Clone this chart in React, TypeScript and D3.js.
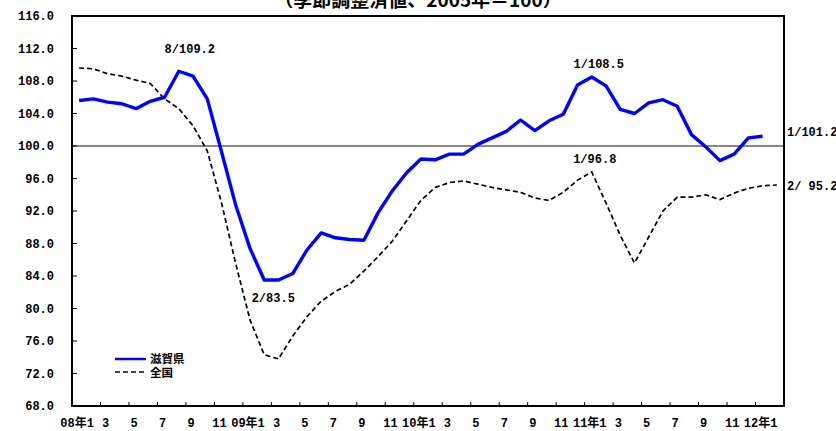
import React from "react";
import * as d3 from "d3";

// Monthly index, Jan 2008 – Feb 2012 (seasonally adjusted, 2005 = 100)
const monthLabels = [
  "08年1", "3", "5", "7", "9", "11",
  "09年1", "3", "5", "7", "9", "11",
  "10年1", "3", "5", "7", "9", "11",
  "11年1", "3", "5", "7", "9", "11",
  "12年1",
];

// 滋賀県: Jan 2008 – Jan 2012
const shiga = [
  105.6, 105.8, 105.4, 105.2, 104.6, 105.5, 106.0, 109.2, 108.6, 105.8, 99.3, 92.7,
  87.4, 83.5, 83.5, 84.3, 87.2, 89.3, 88.7, 88.5, 88.4, 91.8, 94.5, 96.7,
  98.4, 98.3, 99.0, 99.0, 100.2, 101.0, 101.8, 103.2, 101.9, 103.1, 103.9, 107.5,
  108.5, 107.4, 104.5, 104.0, 105.3, 105.7, 104.9, 101.4, 99.9, 98.2, 99.0, 101.0,
  101.2,
];

// 全国: Jan 2008 – Feb 2012
const zenkoku = [
  109.6, 109.5, 108.9, 108.6, 108.1, 107.7, 105.8, 104.6, 102.5, 99.4, 93.0, 85.5,
  78.6, 74.3, 73.8, 76.6, 79.0, 80.9, 82.1, 83.0, 84.6, 86.4, 88.3, 90.8,
  93.3, 94.9, 95.5, 95.7, 95.3, 94.9, 94.6, 94.3, 93.6, 93.3, 94.3, 95.8,
  96.8, 93.0, 89.0, 85.6, 88.8, 92.0, 93.7, 93.7, 94.0, 93.4, 94.2, 94.8,
  95.1, 95.2,
];

const yTicks = [68, 72, 76, 80, 84, 88, 92, 96, 100, 104, 108, 112, 116];

const W = 836;
const H = 431;
const plot = { left: 72, right: 784, top: 16, bottom: 406 };

const numFont = "'Liberation Mono', 'Noto Sans CJK JP', monospace";
const cjkFont = "'Noto Sans CJK JP', sans-serif";

export default function App() {
  const n = zenkoku.length;
  const x = d3
    .scaleBand<number>()
    .domain(d3.range(n))
    .range([plot.left, plot.right])
    .padding(0);
  const bw = x.bandwidth();
  const cx = (i: number) => (x(i) as number) + bw / 2;
  const y = d3.scaleLinear().domain([68, 116]).range([plot.bottom, plot.top]);

  const line = d3
    .line<number>()
    .x((_, i) => cx(i))
    .y((v) => y(v));

  const yFmt = d3.format(".1f");

  // tick marks on the category axis every two months
  const xTickIdx = d3.range(2, n, 2);

  const label = (
    text: string,
    xPos: number,
    yCenter: number,
    anchor: "start" | "middle" = "middle"
  ) => (
    <text
      x={xPos}
      y={yCenter + 4.3}
      textAnchor={anchor}
      fontFamily={numFont}
      fontWeight="bold"
      fontSize={12}
      fill="#000"
    >
      {text}
    </text>
  );

  const iShigaPeak = 7;
  const iShigaLow = 13;
  const iJan11 = 36;
  const iShigaLast = shiga.length - 1;
  const iZenLast = zenkoku.length - 1;

  return (
    <svg
      width={W}
      height={H}
      style={{ position: "absolute", left: 0, top: 0, background: "#fff" }}
    >
      <rect x={0} y={0} width={W} height={H} fill="#fff" />

      {/* title, its upper half running off the top */}
      <text
        x={418}
        y={7}
        textAnchor="middle"
        fontFamily={cjkFont}
        fontWeight="bold"
        fontSize={19}
        fill="#000"
      >
        （季節調整済値、2005年＝100）
      </text>

      {/* reference line at 100 */}
      <line
        x1={plot.left}
        x2={plot.right}
        y1={y(100)}
        y2={y(100)}
        stroke="#111"
        strokeWidth={1.2}
      />

      {/* y ticks (inside) and labels */}
      {yTicks.map((t) => (
        <g key={t}>
          <line
            x1={plot.left}
            x2={plot.left + 5}
            y1={y(t)}
            y2={y(t)}
            stroke="#000"
            strokeWidth={1}
          />
          <text
            x={54}
            y={y(t) + 4.3}
            textAnchor="end"
            fontFamily={numFont}
            fontWeight="bold"
            fontSize={12}
          >
            {yFmt(t)}
          </text>
        </g>
      ))}

      {/* x ticks (inside) */}
      {xTickIdx.map((i) => (
        <line
          key={i}
          x1={x(i) as number}
          x2={x(i) as number}
          y1={plot.bottom}
          y2={plot.bottom - 4}
          stroke="#000"
          strokeWidth={1}
        />
      ))}

      {/* x labels every other month */}
      {monthLabels.map((lab, k) => (
        <text
          key={k}
          x={cx(k * 2) - 2}
          y={426.5}
          textAnchor="middle"
          fontFamily={numFont}
          fontWeight="bold"
          fontSize={12}
        >
          {lab}
        </text>
      ))}

      {/* series */}
      <path
        d={line(zenkoku) as string}
        fill="none"
        stroke="#000"
        strokeWidth={1.7}
        strokeDasharray="5,3"
      />
      <path
        d={line(shiga) as string}
        fill="none"
        stroke="#0000ff"
        strokeWidth={3.4}
        strokeLinejoin="round"
      />

      {/* frame */}
      <rect
        x={plot.left}
        y={plot.top}
        width={plot.right - plot.left}
        height={plot.bottom - plot.top}
        fill="none"
        stroke="#000"
        strokeWidth={2}
      />

      {/* value annotations */}
      {label(`8/${shiga[iShigaPeak].toFixed(1)}`, cx(iShigaPeak) + 11, y(shiga[iShigaPeak]) - 23)}
      {label(`2/${shiga[iShigaLow].toFixed(1)}`, cx(iShigaLow) + 9, y(shiga[iShigaLow]) + 18)}
      {label(`1/${shiga[iJan11].toFixed(1)}`, cx(iJan11) + 7, y(shiga[iJan11]) - 13)}
      {label(`1/${zenkoku[iJan11].toFixed(1)}`, cx(iJan11) + 3, y(zenkoku[iJan11]) - 13)}
      {label(`1/${shiga[iShigaLast].toFixed(1)}`, 787, y(shiga[iShigaLast]) - 5, "start")}
      {label(`2/ ${zenkoku[iZenLast].toFixed(1)}`, 787, y(zenkoku[iZenLast]) + 0.5, "start")}

      {/* legend */}
      <line x1={115} x2={146} y1={359} y2={359} stroke="#0000ff" strokeWidth={2.5} />
      <text x={150} y={363} fontFamily={cjkFont} fontWeight="bold" fontSize={11.5}>
        滋賀県
      </text>
      <line
        x1={115}
        x2={146}
        y1={372}
        y2={372}
        stroke="#000"
        strokeWidth={1.7}
        strokeDasharray="5,3"
      />
      <text x={150} y={376.5} fontFamily={cjkFont} fontWeight="bold" fontSize={11.5}>
        全国
      </text>
    </svg>
  );
}
